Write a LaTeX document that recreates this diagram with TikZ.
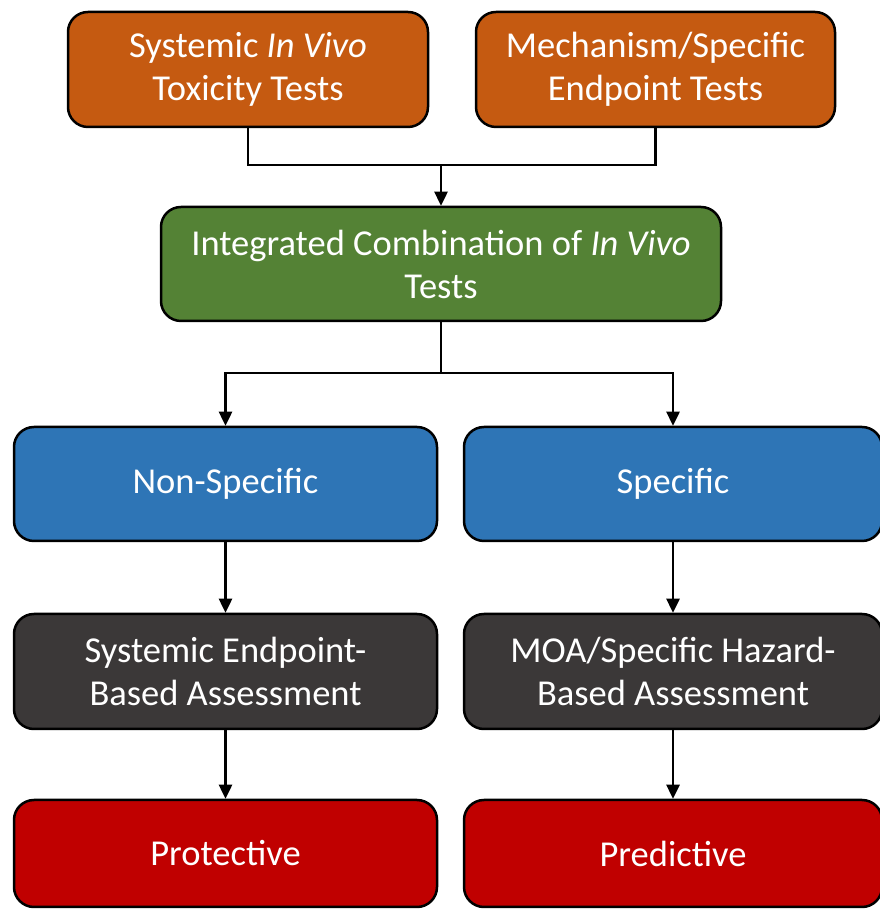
\documentclass[tikz,border=0pt]{standalone}
\usepackage{fontspec}
\setmainfont{Carlito}
\usetikzlibrary{arrows.meta}
\definecolor{testorange}{HTML}{C55A11}
\definecolor{combigreen}{HTML}{548235}
\definecolor{typeblue}{HTML}{2E75B6}
\definecolor{assessgray}{HTML}{3B3838}
\definecolor{outcomered}{HTML}{C00000}
\tikzset{box/.style=
   {rectangle,
    draw=black,
    line width=2.5pt,
    rounded corners=20pt,
    text=white,
    align=center,
    inner sep=0pt,
    font=\fontsize{36.5}{43}\selectfont}}
\tikzset{arrow/.style = {draw, line width=2.5pt, -{Triangle[width=13pt,length=14pt]}}}
\tikzset{link/.style = {draw, line width=2.5pt}}

\begin{document}
\begin{tikzpicture}[x=1pt, y=1pt]

    \useasboundingbox (0,0) rectangle (879,909);

    % Tests
    \node [box, fill=testorange, minimum width=360pt, minimum height=115pt]
        (systemic) at (248,839.5) {Systemic \textit{In Vivo}\\Toxicity Tests};
    \node [box, fill=testorange, minimum width=359pt, minimum height=115pt]
        (mechanism) at (655.5,839.5) {Mechanism/Specific\\Endpoint Tests};

    % Combination
    \node [box, fill=combigreen, minimum width=560pt, minimum height=114pt]
        (combined) at (441,645) {Integrated Combination of \textit{In Vivo}\\Tests};

    % Types
    \node [box, fill=typeblue, minimum width=423pt, minimum height=114pt]
        (nonspecific) at (225.5,425) {Non-Specific};
    \node [box, fill=typeblue, minimum width=418pt, minimum height=114pt]
        (specific) at (673,425) {Specific};

    % Assessments
    \node [box, fill=assessgray, minimum width=423pt, minimum height=115pt]
        (endpoint) at (225.5,237.5) {Systemic Endpoint-\\Based Assessment};
    \node [box, fill=assessgray, minimum width=418pt, minimum height=115pt]
        (hazard) at (673,237.5) {MOA/Specific Hazard-\\Based Assessment};

    % Outcomes
    \node [box, fill=outcomered, minimum width=423pt, minimum height=107pt]
        (protective) at (225.5,55.5) {Protective};
    \node [box, fill=outcomered, minimum width=418pt, minimum height=107pt]
        (predictive) at (673,55.5) {Predictive};

    % Draw edges
    \coordinate (join) at (441,744);
    \coordinate (split) at (441,536);

    \path [link] (systemic.south) |- (join) -| (mechanism.south);
    \path [arrow] (join) -- (combined.north);

    \path [link] (combined.south) -- (split);
    \path [arrow] (split) -| (nonspecific.north);
    \path [arrow] (split) -| (specific.north);

    \path [arrow] (nonspecific.south) -- (endpoint.north);
    \path [arrow] (specific.south) -- (hazard.north);

    \path [arrow] (endpoint.south) -- (protective.north);
    \path [arrow] (hazard.south) -- (predictive.north);

\end{tikzpicture}
\end{document}
